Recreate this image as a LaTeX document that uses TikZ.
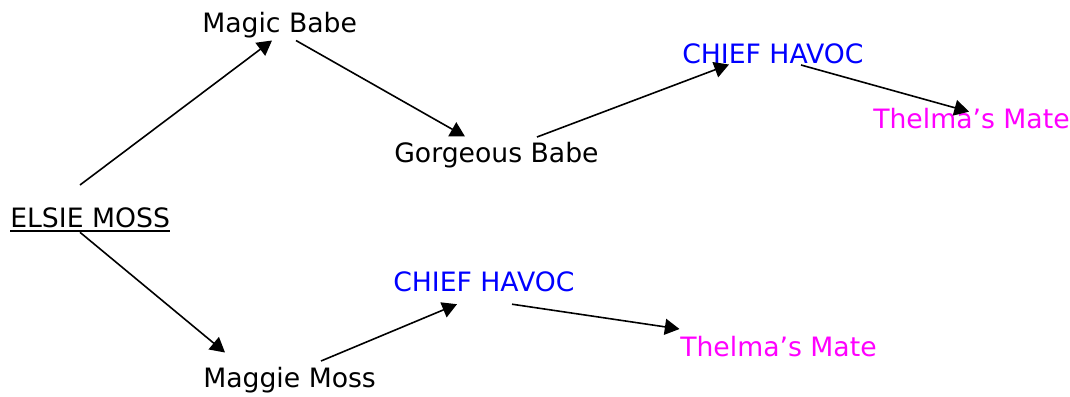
\documentclass[tikz,border=0pt]{standalone}
\usepackage{fontspec}
\setmainfont{DejaVu Sans}
\usetikzlibrary{arrows.meta,calc}
\definecolor{havoc}{RGB}{0,0,255}
\definecolor{thelma}{RGB}{255,0,255}
\begin{document}
\begin{tikzpicture}[x=0.75pt,y=-0.75pt,
    dog/.style={anchor=base west,inner sep=0pt,font=\fontsize{20}{24}\selectfont},
    sire/.style={dog,text=havoc},
    mate/.style={dog,text=thelma},
    link/.style={line width=1.2pt,-{Triangle[length=11pt,width=12pt]}}]
\useasboundingbox (0,0) rectangle (1070,396);

% dogs
\node[dog]  (elsie)    at (10,227)    {ELSIE MOSS};
\node[dog]  (magic)    at (202,32.5)  {Magic Babe};
\node[dog]  (gorgeous) at (394,162)   {Gorgeous Babe};
\node[sire] (chiefA)   at (682,63.5)  {CHIEF HAVOC};
\node[mate] (thelmaA)  at (873,128.3) {Thelma’s Mate};
\node[dog]  (maggie)   at (203,387.5) {Maggie Moss};
\node[sire] (chiefB)   at (393,291.2) {CHIEF HAVOC};
\node[mate] (thelmaB)  at (680,356)   {Thelma’s Mate};

\draw[line width=1.2pt] ($(elsie.base west)+(0,4)$) -- ($(elsie.base east)+(0,4)$);

% upper line
\draw[link] ($(elsie.base west)+(70,-42)$) -- ($(magic.base west)+(70,8)$);
\draw[link] ($(magic.base west)+(94,8)$) -- ($(gorgeous.base west)+(71,-25.5)$);
\draw[link] ($(gorgeous.base west)+(143,-25)$) -- ($(chiefA.base west)+(47,1)$);
\draw[link] ($(chiefA.base west)+(119,1.5)$) -- ($(thelmaA.base west)+(96,-16.6)$);

% lower line
\draw[link] ($(elsie.base west)+(70,5.3)$) -- ($(maggie.base west)+(22,-35)$);
\draw[link] ($(maggie.base west)+(118,-26.5)$) -- ($(chiefB.base west)+(64,13)$);
\draw[link] ($(chiefB.base west)+(119,13)$) -- ($(thelmaB.base west)+(-0.5,-27)$);

\end{tikzpicture}
\end{document}
